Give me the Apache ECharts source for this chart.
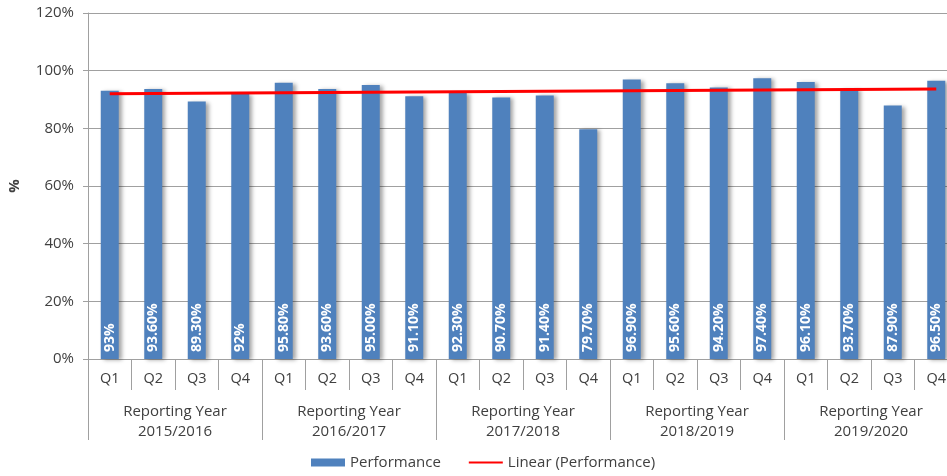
<!DOCTYPE html>
<html>
<head>
<meta charset="utf-8">
<script src="https://cdn.jsdelivr.net/npm/echarts@6/dist/echarts.min.js"></script>
<style>html,body{margin:0;padding:0;background:#fff}#c{width:947px;height:476px}</style>
</head>
<body>
<div id="c"></div>
<script>
const quarters = ['Q1','Q2','Q3','Q4','Q1','Q2','Q3','Q4','Q1','Q2','Q3','Q4','Q1','Q2','Q3','Q4','Q1','Q2','Q3','Q4'];
const years = ['Reporting Year\n2015/2016','Reporting Year\n2016/2017','Reporting Year\n2017/2018','Reporting Year\n2018/2019','Reporting Year\n2019/2020'];
const performance = [93, 93.6, 89.3, 92, 95.8, 93.6, 95.0, 91.1, 92.3, 90.7, 91.4, 79.7, 96.9, 95.6, 94.2, 97.4, 96.1, 93.7, 87.9, 96.5];
const barLabels = ['93%','93.60%','89.30%','92%','95.80%','93.60%','95.00%','91.10%','92.30%','90.70%','91.40%','79.70%','96.90%','95.60%','94.20%','97.40%','96.10%','93.70%','87.90%','96.50%'];
// trend line endpoints (first and last category)
const trendStart = 92.0;
const trendEnd = 93.6;
const yTicks = [0, 20, 40, 60, 80, 100, 120];

const trend = performance.map((v, i) => i === 0 ? trendStart : (i === performance.length - 1 ? trendEnd : null));

const FONT = '"Open Sans", "Liberation Sans", sans-serif';
const TXT = '#404040';
const GRAY = '#A0A0A0';

const chart = echarts.init(document.getElementById('c'), null, {renderer: 'canvas'});
chart.setOption({
  animation: false,
  textStyle: {fontFamily: FONT},
  grid: {left: 88, top: 13, right: -11, bottom: 117, containLabel: false, outerBoundsMode: 'none'},
  legend: {
    left: 311, top: 455, padding: 0,
    itemWidth: 34, itemHeight: 8, itemGap: 27,
    textStyle: {fontFamily: FONT, fontSize: 15, color: TXT},
    data: [
      {name: 'Performance', icon: 'rect'},
      {name: 'Linear (Performance)', itemStyle: {opacity: 0}}
    ]
  },
  xAxis: [
    {
      type: 'category', data: quarters, position: 'bottom',
      axisLine: {show: true, lineStyle: {color: GRAY, width: 1}},
      axisTick: {show: true, interval: 0, length: 31, lineStyle: {color: GRAY}},
      axisLabel: {interval: 0, margin: 12, fontSize: 14.5, color: TXT, fontFamily: FONT}
    },
    {
      type: 'category', data: years, position: 'bottom',
      axisLine: {show: false},
      axisTick: {show: true, interval: 0, length: 81, lineStyle: {color: GRAY}},
      axisLabel: {interval: 0, margin: 43, fontSize: 15, lineHeight: 20, color: TXT, fontFamily: FONT}
    }
  ],
  yAxis: {
    type: 'value', min: yTicks[0], max: yTicks[yTicks.length - 1], interval: 20,
    name: '%', nameLocation: 'middle', nameGap: 66, nameRotate: 90,
    nameTextStyle: {fontSize: 15, fontWeight: 'bold', color: TXT, fontFamily: FONT},
    axisLine: {show: true, lineStyle: {color: GRAY}},
    axisTick: {show: true, length: 5, lineStyle: {color: GRAY}},
    axisLabel: {formatter: '{value}%', margin: 14, fontSize: 15, color: TXT, fontFamily: FONT},
    splitLine: {show: true, lineStyle: {color: GRAY, width: 1}}
  },
  series: [
    {
      name: 'Performance', type: 'bar', xAxisIndex: 0, data: performance,
      barWidth: 18,
      itemStyle: {color: '#4F81BD', shadowColor: 'rgba(0,0,0,0.35)', shadowBlur: 4, shadowOffsetX: 3, shadowOffsetY: 1},
      label: {
        show: true, position: 'insideBottom', rotate: 90, align: 'left', verticalAlign: 'middle',
        distance: 7, color: '#fff', fontWeight: 'bold', fontSize: 14, fontFamily: FONT,
        formatter: p => barLabels[p.dataIndex]
      }
    },
    {
      name: 'Linear (Performance)', type: 'line', xAxisIndex: 0, data: trend,
      connectNulls: true, symbol: 'none', showSymbol: false,
      lineStyle: {color: '#FF0000', width: 3},
      itemStyle: {color: '#FF0000'},
      z: 5
    }
  ]
});
</script>
</body>
</html>
